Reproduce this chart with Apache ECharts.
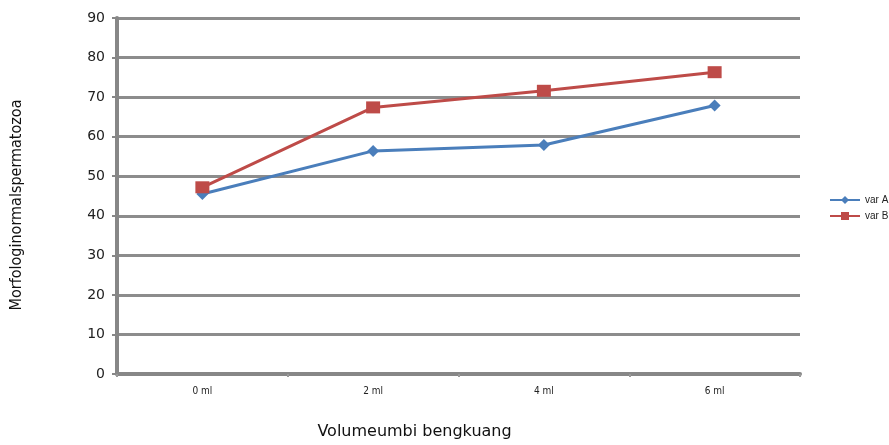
<!DOCTYPE html>
<html><head><meta charset="utf-8">
<script src="https://cdn.jsdelivr.net/npm/echarts@6/dist/echarts.min.js"></script>
<style>html,body{margin:0;padding:0;background:#fff}#c{width:889px;height:445px}</style>
</head><body><div id="c"></div>
<script>
const categories = ['0 ml', '2 ml', '4 ml', '6 ml'];
const varA = [45.5, 56.4, 57.9, 67.9];
const varB = [47.2, 67.4, 71.6, 76.3];
const yMin = 0, yMax = 90, yStep = 10;

const chart = echarts.init(document.getElementById('c'));
chart.setOption({
  animation: false,
  grid: { left: 117, right: 89, top: 18, bottom: 63 },
  legend: {
    orient: 'vertical', left: 824, top: 190, itemGap: 6, itemWidth: 30, itemHeight: 10,
    textStyle: { fontSize: 10, color: '#222', fontFamily: 'Liberation Sans' },
    data: ['var A', 'var B']
  },
  xAxis: {
    type: 'category', data: categories, boundaryGap: true,
    name: 'Volumeumbi bengkuang', nameLocation: 'middle', nameGap: 50,
    nameTextStyle: { fontSize: 16, color: '#111', fontFamily: 'DejaVu Sans', letterSpacing: 3.5, padding: [0, 88, 0, 0] },
    axisLine: { lineStyle: { color: '#878787', width: 4 } },
    axisTick: { show: true, alignWithLabel: false, length: 3, lineStyle: { color: '#999', width: 2 } },
    axisLabel: { fontSize: 10, color: '#222', margin: 12, fontFamily: 'DejaVu Sans Condensed' },
    splitLine: { show: false }
  },
  yAxis: {
    type: 'value', min: yMin, max: yMax, interval: yStep,
    name: 'Morfologinormalspermatozoa', nameLocation: 'middle', nameGap: 92, nameRotate: 90,
    nameTextStyle: { fontSize: 16, color: '#111', fontFamily: 'Liberation Sans Narrow, DejaVu Sans Condensed', padding: [0, 18, 0, 0] },
    axisLine: { show: true, lineStyle: { color: '#878787', width: 4 } },
    axisTick: { show: true, length: 5, lineStyle: { color: '#878787', width: 2 } },
    axisLabel: { fontSize: 14, color: '#222', margin: 12, fontFamily: 'DejaVu Sans' },
    splitLine: { show: true, lineStyle: { color: '#8c8c8c', width: 3 } }
  },
  series: [
    { name: 'var A', type: 'line', data: varA, symbol: 'diamond', symbolSize: 12,
      lineStyle: { color: '#4a7ebb', width: 3 }, itemStyle: { color: '#4a7ebb' } },
    { name: 'var B', type: 'line', data: varB, symbol: 'rect', symbolSize: [14, 12],
      lineStyle: { color: '#be4b48', width: 3 }, itemStyle: { color: '#be4b48' } }
  ]
});
</script></body></html>
